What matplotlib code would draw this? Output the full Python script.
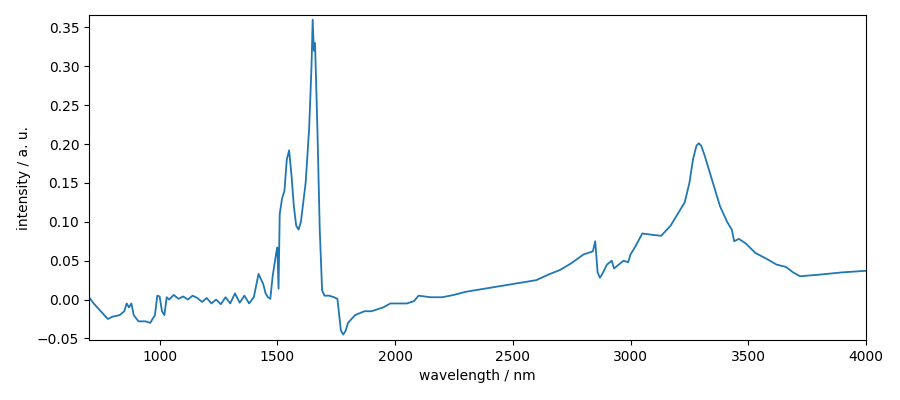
import matplotlib
matplotlib.use("Agg")
import matplotlib.pyplot as plt

wavelength = [700,720,750,780,800,830,850,860,870,880,890,910,940,960,980,990,1000,1010,1020,1030,1040,1060,1080,1100,1120,1140,1160,1180,1200,1220,1240,1260,1280,1300,1320,1340,1360,1380,1400,1420,1440,1450,1460,1470,1480,1495,1500,1505,1510,1520,1530,1540,1550,1560,1570,1580,1590,1600,1620,1635,1645,1650,1655,1660,1670,1680,1690,1700,1720,1740,1755,1770,1780,1790,1800,1830,1870,1900,1950,1980,2000,2050,2080,2100,2150,2200,2250,2300,2400,2500,2600,2650,2700,2750,2800,2840,2850,2860,2870,2880,2900,2920,2930,2950,2970,2990,3000,3020,3050,3100,3130,3170,3200,3230,3250,3265,3280,3290,3300,3315,3350,3380,3410,3430,3440,3460,3490,3530,3580,3620,3660,3690,3720,3800,3900,4000]
intensity = [0.003,-0.005,-0.015,-0.025,-0.022,-0.02,-0.015,-0.005,-0.01,-0.005,-0.02,-0.028,-0.028,-0.03,-0.02,0.005,0.004,-0.015,-0.02,0.003,0.0,0.006,0.001,0.004,0.0,0.005,0.002,-0.003,0.002,-0.005,0.0,-0.006,0.003,-0.005,0.008,-0.004,0.005,-0.005,0.003,0.033,0.02,0.008,0.003,0.001,0.03,0.06,0.067,0.014,0.11,0.13,0.14,0.18,0.192,0.16,0.12,0.095,0.09,0.1,0.15,0.22,0.30,0.36,0.32,0.33,0.22,0.09,0.012,0.005,0.005,0.003,0.001,-0.04,-0.045,-0.04,-0.03,-0.02,-0.015,-0.015,-0.01,-0.005,-0.005,-0.005,-0.002,0.005,0.003,0.003,0.006,0.01,0.015,0.02,0.025,0.032,0.038,0.047,0.058,0.062,0.075,0.035,0.028,0.033,0.045,0.05,0.04,0.045,0.05,0.048,0.058,0.068,0.085,0.083,0.082,0.095,0.11,0.125,0.15,0.18,0.198,0.201,0.198,0.185,0.15,0.12,0.1,0.09,0.075,0.078,0.072,0.06,0.052,0.045,0.042,0.035,0.03,0.032,0.035,0.037]

fig = plt.figure(figsize=(9, 4), dpi=100)
ax = fig.add_axes([89/900, 60/400, 777/900, 325/400])
ax.plot(wavelength, intensity, color="#1f77b4", lw=1.3)
ax.set_xlim(700, 4000)
ax.set_ylim(-0.052, 0.366)
ax.set_xlabel("wavelength / nm")
ax.set_ylabel("intensity / a. u.")
fig.savefig("out.png")
